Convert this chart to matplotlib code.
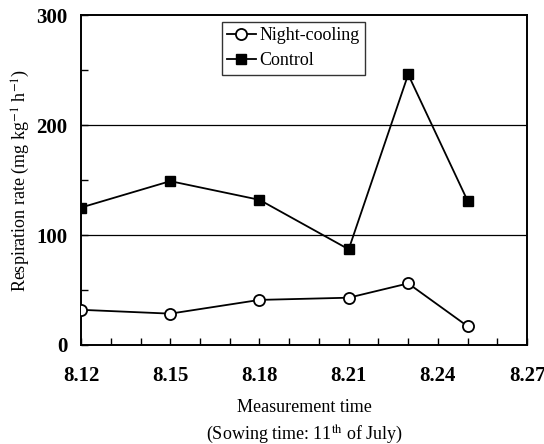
import numpy as np
import matplotlib.pyplot as plt
from matplotlib.ticker import MultipleLocator

plt.rcParams["font.family"] = ["Liberation Serif", "DejaVu Serif"]
plt.rcParams["mathtext.fontset"] = "stix"

# データ
dates = [8.12, 8.15, 8.18, 8.21, 8.23, 8.25]
night_cooling = [32, 28.5, 41, 43, 56, 17]
control = [125, 149, 132, 87, 246, 131]
xtick_vals = [8.12, 8.15, 8.18, 8.21, 8.24, 8.27]

fig = plt.figure(figsize=(5.44, 4.44), dpi=100)
ax = fig.add_axes([0.149, 0.223, 0.82, 0.743])

ax.axhline(100, color="black", lw=0.9, zorder=1)
ax.axhline(200, color="black", lw=0.9, zorder=1)

ax.plot(dates, night_cooling, "-o", color="black", mfc="white", mec="black",
        ms=8, lw=1.3, mew=1.3, label="Night-cooling", zorder=3)
ax.plot(dates, control, "-s", color="black", mfc="black", ms=7.5, lw=1.3,
        label="Control", zorder=3)

ax.set_xlim(8.12, 8.27)
ax.set_ylim(0, 300)
ax.set_xticks(xtick_vals)
ax.set_xticklabels(["%.2f" % v for v in xtick_vals])
ax.xaxis.set_minor_locator(MultipleLocator(0.01))
ax.set_yticks([0, 100, 200, 300])
ax.yaxis.set_minor_locator(MultipleLocator(50))
ax.tick_params(axis="both", which="both", direction="in", length=5, width=1,
               labelsize=15, top=False, right=False)
ax.tick_params(axis="x", pad=15)
ax.tick_params(axis="y", pad=10)
for lbl in ax.get_xticklabels() + ax.get_yticklabels():
    lbl.set_fontweight("bold")
for s in ax.spines.values():
    s.set_linewidth(1.4)

ax.set_ylabel("Respiration rate (mg kg$^{-1}$ h$^{-1}$)", fontsize=13,
              labelpad=3)

# x軸ラベル（2行）
xc = 0.149 + 0.82 / 2
fig.text(xc, 1 - 407 / 444, "Measurement time", fontsize=13,
         ha="center", va="center")
fig.text(xc, 1 - 434 / 444, "(Sowing time: 11$^{\\rm th}$ of July)",
         fontsize=13, ha="center", va="center")

leg = ax.legend(loc="upper left", bbox_to_anchor=(0.315, 0.98), fontsize=13,
                frameon=True, fancybox=False, edgecolor="black",
                handlelength=1.6, handletextpad=0.2, borderpad=0.3,
                labelspacing=0.45, borderaxespad=0)
leg.get_frame().set_linewidth(1.0)

fig.savefig("out.png", dpi=100)
